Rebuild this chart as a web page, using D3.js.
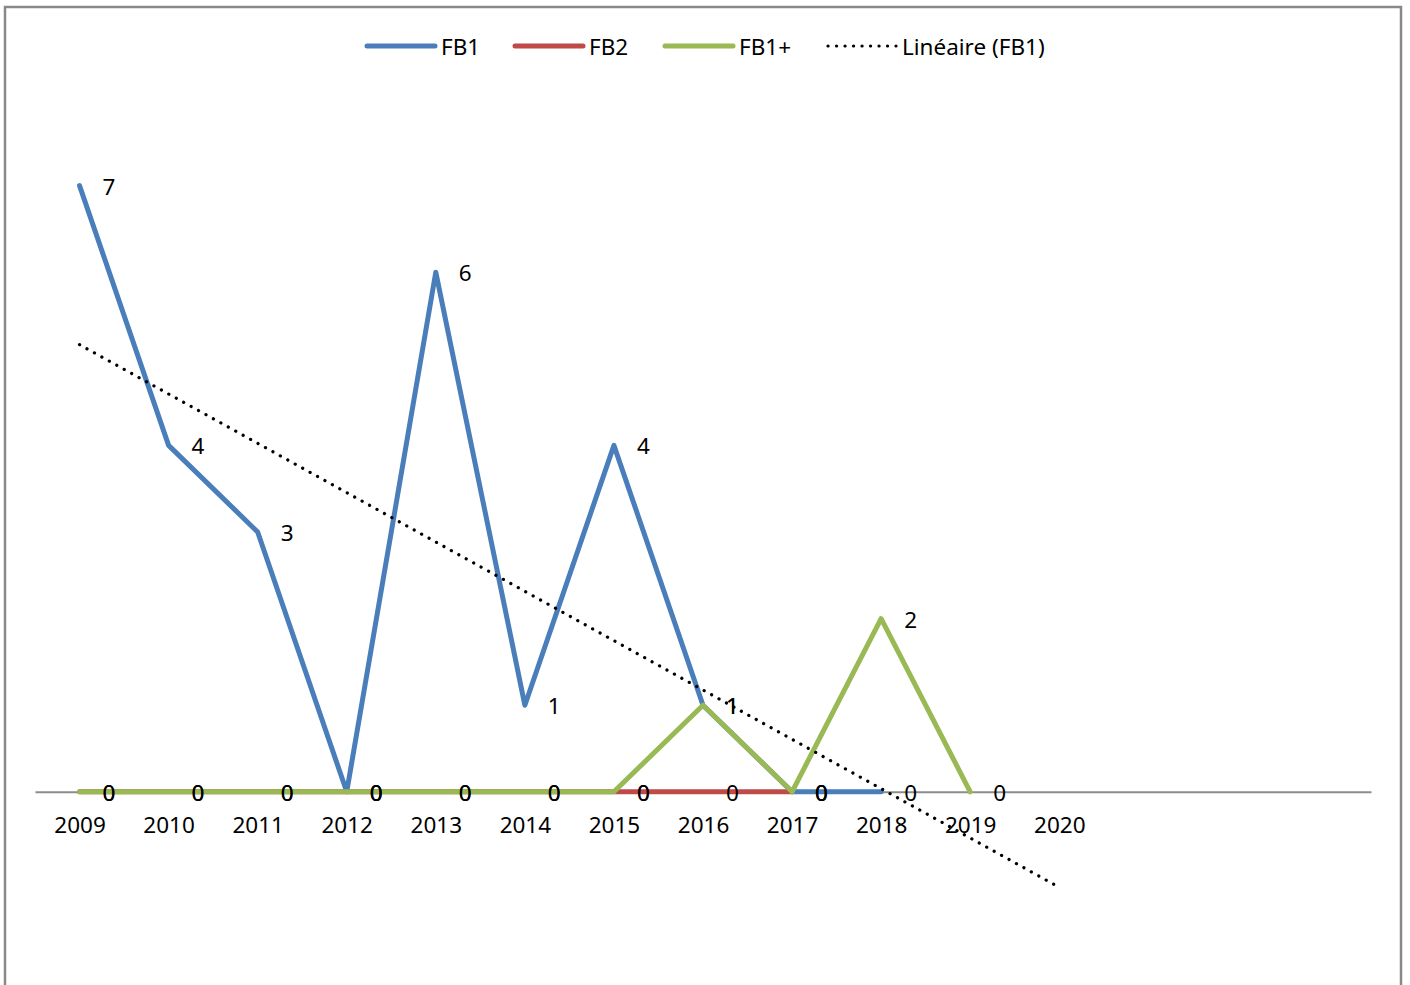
<!doctype html>
<html>
<head>
    <title>FB1 / FB2 / FB1+</title>
    <script src="https://d3js.org/d3.v7.min.js"></script>
    <style>
        body { margin: 0; background: #fff; }
        text { font-family: "Noto Sans", "Open Sans", sans-serif; fill: #000; }
    </style>
</head>
<body>
<svg width="1410" height="985"></svg>
<script>
    // data
    var years = ["2009","2010","2011","2012","2013","2014","2015","2016","2017","2018","2019","2020"];
    var slots = 15; // the category axis keeps 3 empty slots at the end
    var fb1 = [7, 4, 3, 0, 6, 1, 4, 1, 0, 0];
    var fb2 = [0, 0, 0, 0, 0, 0, 0, 0, 0];
    var fb1plus = [0, 0, 0, 0, 0, 0, 0, 1, 0, 2, 0];
    var trendForward = 2;

    var series = [
        { name: "FB1", values: fb1, color: "#4a7ebb" },
        { name: "FB2", values: fb2, color: "#be4b48" },
        { name: "FB1+", values: fb1plus, color: "#98b954" }
    ];

    var svg = d3.select("svg");

    // chart frame
    svg.append("rect")
        .attr("x", 5).attr("y", 7)
        .attr("width", 1396).attr("height", 1000)
        .attr("fill", "none")
        .attr("stroke", "#898989")
        .attr("stroke-width", 2.5);

    var x = d3.scaleLinear().domain([-0.5, slots - 0.5]).range([35, 1371]);
    var y = d3.scaleLinear().domain([-2, 8]).range([965, 99]);

    // x axis sitting on zero
    var xAxis = svg.append("g")
        .attr("transform", "translate(0," + y(0) + ")")
        .call(d3.axisBottom(x)
            .tickValues(d3.range(years.length))
            .tickFormat(function(i) { return years[i]; })
            .tickSize(0).tickSizeOuter(0).tickPadding(25));
    xAxis.select(".domain").attr("stroke", "#8c8c8c").attr("stroke-width", 2);
    xAxis.selectAll("text").style("font-size", "22.5px").attr("fill", "#000")
        .style("font-family", "'Noto Sans', sans-serif");

    var line = d3.line()
        .x(function(d, i) { return x(i); })
        .y(function(d) { return y(d); });

    series.forEach(function(s) {
        svg.append("path")
            .datum(s.values)
            .attr("d", line)
            .attr("fill", "none")
            .attr("stroke", s.color)
            .attr("stroke-width", 5)
            .attr("stroke-linejoin", "round")
            .attr("stroke-linecap", "round");
    });

    // linear trend of FB1, projected 2 periods forward
    var n = fb1.length;
    var mx = d3.mean(d3.range(n)), my = d3.mean(fb1);
    var sxy = d3.sum(fb1, function(v, i) { return (i - mx) * (v - my); });
    var sxx = d3.sum(d3.range(n), function(i) { return (i - mx) * (i - mx); });
    var slope = sxy / sxx, icpt = my - slope * mx;
    var tEnd = n - 1 + trendForward;
    svg.append("line")
        .attr("x1", x(0)).attr("y1", y(icpt))
        .attr("x2", x(tEnd)).attr("y2", y(icpt + slope * tEnd))
        .attr("stroke", "#000")
        .attr("stroke-width", 3.2)
        .attr("stroke-linecap", "round")
        .attr("stroke-dasharray", "0.1 8.4");

    // data labels, to the right of each point
    series.forEach(function(s) {
        svg.append("g").selectAll("text")
            .data(s.values)
            .enter().append("text")
            .attr("x", function(d, i) { return x(i) + 23; })
            .attr("y", function(d) { return y(d); })
            .attr("dy", "0.4em")
            .style("font-size", "22.5px")
            .text(function(d) { return d; });
    });

    // legend
    var legend = [
        { name: "FB1", color: "#4a7ebb", x: 367 },
        { name: "FB2", color: "#be4b48", x: 515 },
        { name: "FB1+", color: "#98b954", x: 665 },
        { name: "Linéaire (FB1)", color: "#000", x: 828, dotted: true }
    ];
    var lg = svg.append("g").selectAll("g").data(legend).enter().append("g")
        .attr("transform", function(d) { return "translate(" + d.x + ",46)"; });
    lg.append("line")
        .attr("x1", 0).attr("x2", 68)
        .attr("stroke", function(d) { return d.color; })
        .attr("stroke-width", function(d) { return d.dotted ? 3.2 : 5; })
        .attr("stroke-linecap", "round")
        .attr("stroke-dasharray", function(d) { return d.dotted ? "0.1 8.4" : null; });
    lg.append("text")
        .attr("x", 74)
        .attr("dy", "0.38em")
        .style("font-size", "22.5px")
        .text(function(d) { return d.name; });
</script>
</body>
</html>
